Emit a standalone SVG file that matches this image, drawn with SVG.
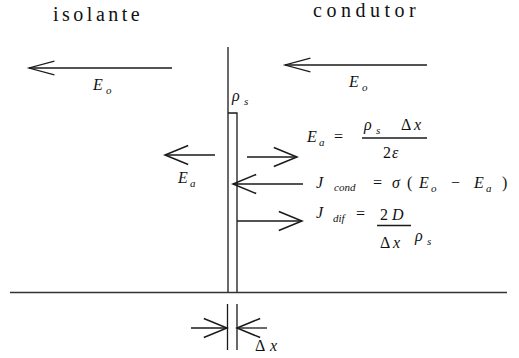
<svg xmlns="http://www.w3.org/2000/svg" width="519" height="358" viewBox="0 0 519 358" font-family="'Liberation Serif', 'DejaVu Serif', serif">
<defs>
<style>
.ln{stroke:#1a1a1a;stroke-width:1.3;fill:none}
.ar{stroke:#1a1a1a;stroke-width:1.3;fill:none;marker-end:url(#hv)}
.arL{stroke:#1a1a1a;stroke-width:1.3;fill:none;marker-end:url(#hl)}
text{font-family:'Liberation Serif','DejaVu Serif',serif;fill:#111}
.lab{font-size:20px}
.m{font-size:16px;font-style:italic}
.s{font-size:11px;font-style:italic}
.n{font-size:16px}
</style>
<marker id="hv" markerUnits="userSpaceOnUse" markerWidth="30" markerHeight="30" refX="0" refY="0" viewBox="-20 -10 22 20" orient="auto" overflow="visible">
<path d="M-17,-7 L0,0 L-17,7" fill="none" stroke="#1a1a1a" stroke-width="1.1"/>
</marker>
<marker id="hl" markerUnits="userSpaceOnUse" markerWidth="30" markerHeight="30" refX="0" refY="0" viewBox="-24 -10 26 20" orient="auto" overflow="visible">
<path d="M-22,-6 L0,0 L-22,6" fill="none" stroke="#1a1a1a" stroke-width="1.1"/>
</marker>
</defs>
<rect width="519" height="358" fill="#fff"/>
<g id="labels">
<text class="lab" x="53" y="21" letter-spacing="3.5">isolante</text>
<text class="lab" x="313" y="17" letter-spacing="4.5">condutor</text>
</g>
<g id="interface">
<line class="ln" x1="228" y1="47" x2="228" y2="292"/>
<polyline class="ln" points="228,113 237,113 237,292"/>
<line x1="10" y1="292.5" x2="507" y2="292.5" stroke="#333" stroke-width="1.6"/>
<line class="ln" x1="227.5" y1="304" x2="227.5" y2="350"/>
<line class="ln" x1="237" y1="304" x2="237" y2="350"/>
</g>
<g id="connectors">
<line class="arL" x1="172" y1="68" x2="29" y2="68"/>
<line class="arL" x1="427" y1="65" x2="285" y2="65"/>
<line class="ar" x1="215" y1="155" x2="165" y2="155"/>
<line class="ar" x1="247" y1="157" x2="297" y2="157"/>
<line class="ar" x1="303" y1="184" x2="233" y2="184"/>
<line class="ar" x1="237" y1="221" x2="302" y2="221"/>
<line class="ar" x1="191" y1="328" x2="227" y2="328"/>
<line class="ar" x1="267" y1="328" x2="237" y2="328"/>
</g>
<g id="Eo-left">
<text class="m" x="93" y="90">E</text><text class="s" x="106" y="94">o</text>
</g>
<g id="Eo-right">
<text class="m" x="349" y="87">E</text><text class="s" x="362" y="91">o</text>
</g>
<g id="rho-s">
<text class="m" x="232" y="101">ρ</text><text class="s" x="244" y="105">s</text>
</g>
<g id="Ea-left">
<text class="m" x="178" y="183">E</text><text class="s" x="190" y="187">a</text>
</g>
<g id="Ea-formula">
<text class="m" x="307" y="142">E</text><text class="s" x="319" y="146">a</text>
<text class="n" x="334" y="142">=</text>
<text class="m" x="364" y="130">ρ</text><text class="s" x="376" y="134">s</text>
<text class="n" x="401" y="130">Δ</text><text class="m" x="414" y="130">x</text>
<line class="ln" x1="362" y1="138" x2="427" y2="138"/>
<text class="n" x="383" y="158">2</text><text class="m" x="392" y="158">ε</text>
</g>
<g id="Jcond">
<text class="m" x="316" y="188">J</text><text class="s" x="334" y="191">cond</text>
<text class="n" x="373" y="188">=</text>
<text class="m" x="392" y="188">σ</text>
<text class="n" x="407" y="188">(</text>
<text class="m" x="419" y="188">E</text><text class="s" x="431" y="192">o</text>
<text class="n" x="451" y="188">−</text>
<text class="m" x="474" y="188">E</text><text class="s" x="486" y="192">a</text>
<text class="n" x="502" y="188">)</text>
</g>
<g id="Jdif">
<text class="m" x="316" y="218">J</text><text class="s" x="333" y="222">dif</text>
<text class="n" x="356" y="219">=</text>
<text class="n" x="380" y="220">2</text><text class="m" x="392" y="220">D</text>
<line class="ln" x1="377" y1="225.5" x2="411" y2="225.5"/>
<text class="n" x="380" y="248">Δ</text><text class="m" x="393" y="248">x</text>
<text class="m" x="415" y="241">ρ</text><text class="s" x="427" y="245">s</text>
</g>
<g id="dx-label">
<text class="n" x="255" y="351">Δ</text><text class="m" x="270" y="351">x</text>
</g>
</svg>
